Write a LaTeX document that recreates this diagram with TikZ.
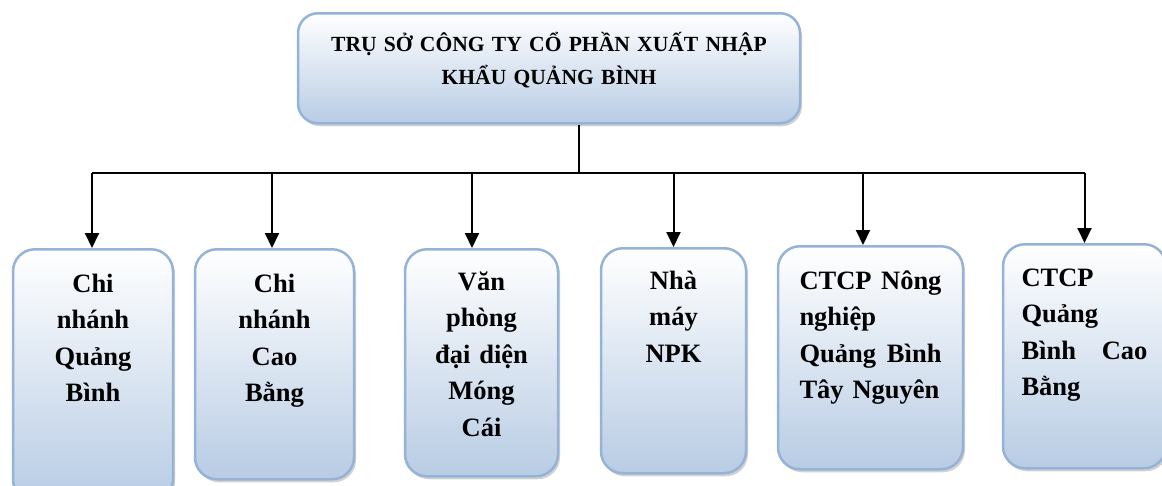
\documentclass[tikz,border=0pt]{standalone}
\usepackage{fontspec}
\setmainfont{Liberation Serif}
\usetikzlibrary{arrows.meta}
\usetikzlibrary{shadows}
\definecolor{unitline}{RGB}{149,179,215}
\definecolor{unitfill}{RGB}{184,204,228}

\begin{document}
\begin{tikzpicture}[x=1pt,y=-1pt,
    unit/.style={draw=unitline,line width=2.5pt,rounded corners=22pt,top color=white,bottom color=unitfill,drop shadow={shadow xshift=2pt,shadow yshift=-3pt,fill=black!35},anchor=north,inner ysep=0pt,inner xsep=5pt,font=\fontsize{26.5}{36.5}\selectfont\bfseries,align=center},
    link/.style={line width=2pt,-{Triangle[length=15pt,width=14pt]}}]
    \useasboundingbox (0,0) rectangle (1162,485);
    \node[unit,text width=492pt,text height=38pt,text depth=72pt,rounded corners=20pt,font=\fontsize{21.6}{33}\selectfont\bfseries] (hq) at (549,12) {TRỤ SỞ CÔNG TY CỔ PHẦN XUẤT NHẬP\\ KHẨU QUẢNG BÌNH};
    \node[unit,text width=150pt,text height=43pt,text depth=209pt] (cnqb) at (93,248) {Chi\\ nhánh\\ Quảng\\ Bình};
    \node[unit,text width=149pt,text height=43pt,text depth=187pt] (cncb) at (274.5,248) {Chi\\ nhánh\\ Cao\\ Bằng};
    \node[unit,text width=143pt,text height=41pt,text depth=186pt] (vpmc) at (481.5,248) {Văn\\ phòng\\ đại diện\\ Móng\\ Cái};
    \node[unit,text width=135pt,text height=41pt,text depth=184pt] (npk) at (673.5,247) {Nhà\\ máy\\ NPK};
    \node[unit,text width=142pt,inner xsep=21.5pt,text height=43pt,text depth=180pt,align=left] (tn) at (870.5,245) {CTCP\hfill Nông\\ nghiệp\\ Quảng\hfill Bình\\ Tây Nguyên};
    \node[unit,text width=126pt,inner xsep=18.5pt,text height=42pt,text depth=182pt,align=left] (qbcb) at (1084.5,243) {CTCP\\ Quảng\\ Bình\hfill Cao\\ Bằng};
    \coordinate (busl) at (92,173);
    \coordinate (busr) at (1085,173);
    \draw[line width=2.5pt] (busl) -- (busr);
    \draw[line width=2pt] ([xshift=30pt]hq.south) -- ([xshift=30pt]hq.south |- busl);
    \draw ([xshift=-1pt]cnqb.north |- busl) edge[link] ([xshift=-1pt]cnqb.north);
    \draw ([xshift=-2.5pt]cncb.north |- busl) edge[link] ([xshift=-2.5pt]cncb.north);
    \draw ([xshift=-9.5pt]vpmc.north |- busl) edge[link] ([xshift=-9.5pt]vpmc.north);
    \draw (npk.north |- busl) edge[link] (npk.north);
    \draw ([xshift=-7.5pt]tn.north |- busl) edge[link] ([xshift=-7.5pt]tn.north);
    \draw (qbcb.north |- busl) edge[link] (qbcb.north);
\end{tikzpicture}
\end{document}
